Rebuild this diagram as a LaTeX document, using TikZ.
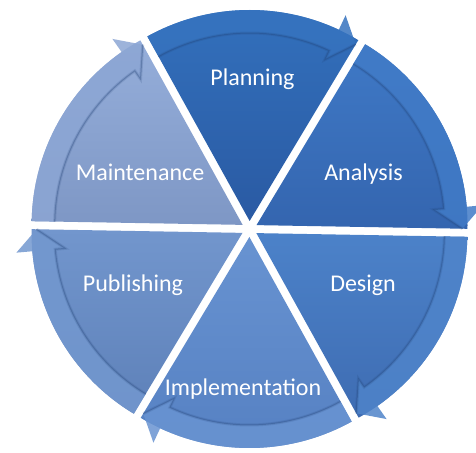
\documentclass[tikz,border=0pt]{standalone}
\usepackage{fontspec}
\setmainfont{Carlito}
\definecolor{plT}{HTML}{3371BD}\definecolor{plB}{HTML}{2A5AA3}\definecolor{plA}{HTML}{3673BF}
\definecolor{anT}{HTML}{3F79C6}\definecolor{anB}{HTML}{3465AF}\definecolor{anA}{HTML}{417BC7}
\definecolor{deT}{HTML}{4C82C9}\definecolor{deB}{HTML}{3E6CB2}\definecolor{deA}{HTML}{4F84CA}
\definecolor{imT}{HTML}{6893D1}\definecolor{imB}{HTML}{5580C2}\definecolor{imA}{HTML}{6994D2}
\definecolor{puT}{HTML}{7296CD}\definecolor{puB}{HTML}{5E81B9}\definecolor{puA}{HTML}{7398CF}
\definecolor{maT}{HTML}{95AEDA}\definecolor{maB}{HTML}{7E97C5}\definecolor{maA}{HTML}{8CA6D4}
\definecolor{edge}{HTML}{1F3F73}
\def\cyRot{-1}
\def\cyR{211}
\def\cyRi{188}
\newcommand\cycpiece[4]{%
  \pgfmathsetmacro\cxa{#1+\cyRot}%
  \pgfmathsetmacro\cxb{#1+60+\cyRot}%
  \pgfmathsetmacro\cxm{#1+30+\cyRot}%
  \pgfmathsetmacro\cxh{\cxa+6}%
  \begin{scope}[shift={(\cxm:8)}]
    \shade[top color=#2, bottom color=#3] (0,0) -- (\cxb:\cyR)
      arc[start angle=\cxb, end angle=\cxa, radius=\cyR] -- cycle;
    \fill[#4, fill opacity=0.85] (\cxb:\cyR)
      arc[start angle=\cxb, end angle=\cxh, radius=\cyR]
      -- (\cxh:227) -- (\cxa:206) -- (\cxh:178) -- (\cxh:\cyRi)
      arc[start angle=\cxh, end angle=\cxb, radius=\cyRi] -- cycle;
    \draw[edge, draw opacity=0.15, line width=3pt] (\cxa:206) -- (\cxh:178) -- (\cxh:\cyRi)
      arc[start angle=\cxh, end angle=\cxb, radius=\cyRi];
    \draw[edge, draw opacity=0.3, line width=1pt] (\cxa:206) -- (\cxh:178) -- (\cxh:\cyRi)
      arc[start angle=\cxh, end angle=\cxb, radius=\cyRi];
  \end{scope}}
\tikzset{lbl/.style={text=white, font=\fontsize{24}{28}\selectfont, anchor=base}}
\begin{document}
\begin{tikzpicture}[x=1pt,y=1pt]
\useasboundingbox (0,0) rectangle (476,452);
\fill[white] (0,0) rectangle (476,452);
\begin{scope}[shift={(249.5,223)}]
  \cycpiece{60}{plT}{plB}{plA}
  \cycpiece{0}{anT}{anB}{anA}
  \cycpiece{-60}{deT}{deB}{deA}
  \cycpiece{-120}{imT}{imB}{imA}
  \cycpiece{180}{puT}{puB}{puA}
  \cycpiece{120}{maT}{maB}{maA}
\end{scope}
\node[lbl] (planning) at (252.5,366.5) {Planning};
\node[lbl] (analysis) at (363.5,271) {Analysis};
\node[lbl] (design) at (363,160.5) {Design};
\node[lbl] (implementation) at (243,56.5) {Implementation};
\node[lbl] (publishing) at (133,160.5) {Publishing};
\node[lbl] (maintenance) at (140,271) {Maintenance};
\end{tikzpicture}
\end{document}
